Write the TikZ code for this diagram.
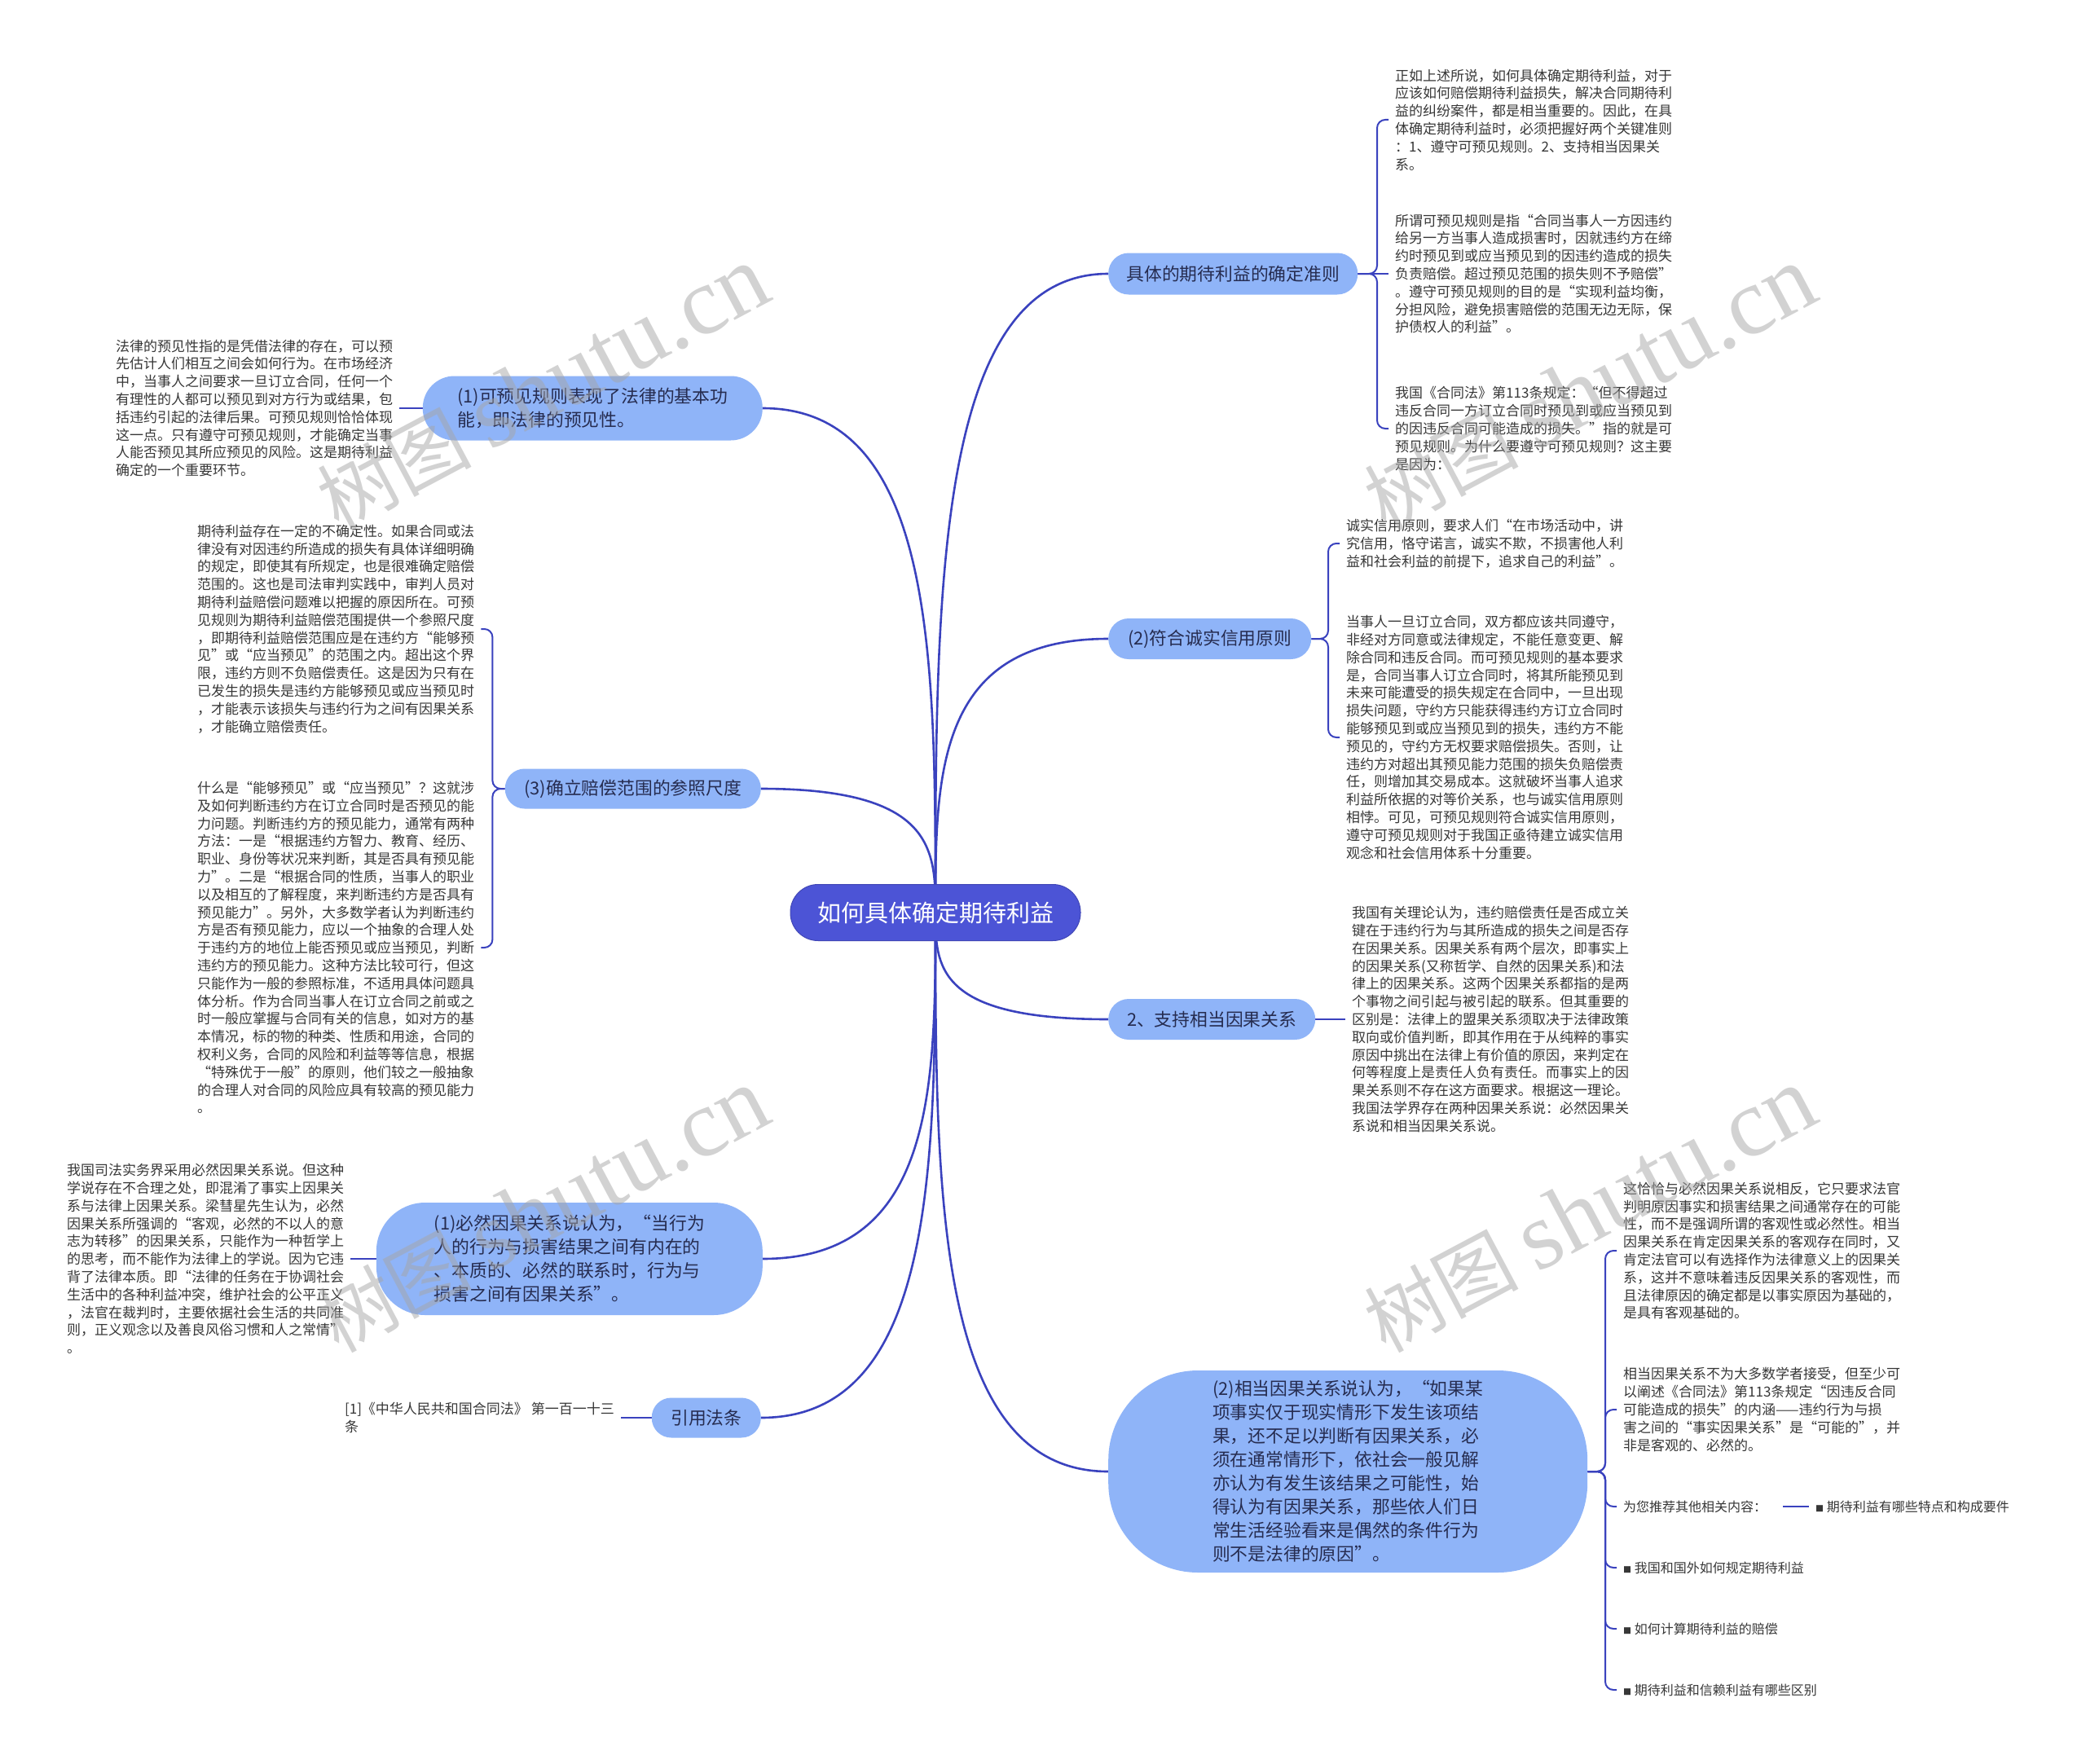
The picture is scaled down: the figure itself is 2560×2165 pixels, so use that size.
\documentclass[tikz,border=0pt]{standalone}
\usepackage{fontspec}
\setmainfont{Noto Sans CJK SC}
\newfontfamily\wmfont{Liberation Serif}
\usetikzlibrary{calc}
\definecolor{mainfill}{RGB}{76,84,214}
\definecolor{branchfill}{RGB}{143,180,248}
\definecolor{branchtext}{RGB}{38,44,80}
\definecolor{edgecol}{RGB}{58,66,190}
\definecolor{leaftext}{RGB}{55,55,55}
\pgfdeclarelayer{bg}
\pgfdeclarelayer{edges}
\pgfsetlayers{bg,edges,main}
\tikzset{
  edge/.style={draw=edgecol, line width=2.6pt},
  leafedge/.style={draw=edgecol, line width=2pt, rounded corners=10pt},
  mainbox/.style={fill=mainfill, draw=mainfill!85!black, line width=1pt, text=white, rounded corners=34pt,
    minimum width=356pt, minimum height=69pt, inner sep=0pt, font=\fontsize{29}{34}\selectfont},
  branchbox/.style={fill=branchfill, text=branchtext, inner sep=0pt, align=left,
    font=\fontsize{21.8}{29}\selectfont},
  leafR/.style={anchor=west, text=leaftext, inner xsep=8pt, inner ysep=0pt, text width=340pt,
    align=left, font=\fontsize{17}{21.8}\selectfont},
  leafL/.style={anchor=west, text=leaftext, inner xsep=8pt, inner ysep=0pt, text width=340pt,
    align=left, font=\fontsize{17}{21.8}\selectfont},
  leafS/.style={anchor=west, text=leaftext, inner xsep=8pt, inner ysep=0pt, align=left,
    font=\fontsize{16}{21}\selectfont},
  wm/.style={text=black!35, text opacity=0.5, inner sep=0pt}
}
\newcommand\sq{{\fontsize{10}{10}\selectfont ■}}
\newcommand\redge[1]{\draw[edge] let \p1=(main.center), \p2=(#1.west) in (\p1) .. controls (\x1,{0.5*\y1+0.5*\y2}) and (\x1,\y2) .. (\p2);}
\newcommand\ledge[1]{\draw[edge] let \p1=(main.center), \p2=(#1.east) in (\p1) .. controls (\x1,{0.5*\y1+0.5*\y2}) and (\x1,\y2) .. (\p2);}
\newcommand\rleaf[2]{\draw[leafedge] (#1.east) -| ([xshift=-14pt]#2.west) -- (#2.west);}
\newcommand\lleaf[2]{\draw[leafedge] (#1.west) -| ([xshift=14pt]#2.east) -- (#2.east);}
\begin{document}
\begin{tikzpicture}[x=1pt,y=-1pt]
\begin{pgfonlayer}{bg}
\fill[white] (0,0) rectangle (2560,2165);
\end{pgfonlayer}
\useasboundingbox (0,0) rectangle (2560,2165);

% central node
\node[mainbox] (main) at (1148,1120) {如何具体确定期待利益};

% branches
\node[branchbox, anchor=west, minimum width=306pt, minimum height=51pt, rounded corners=25pt] (b1) at (1360,336) {具体的期待利益的确定准则};
\node[branchbox, anchor=east, minimum width=417pt, minimum height=79pt, rounded corners=39pt] (b2) at (936,501) {(1)可预见规则表现了法律的基本功\\
能，即法律的预见性。};
\node[branchbox, anchor=west, minimum width=249pt, minimum height=50pt, rounded corners=25pt] (b3) at (1360,784) {(2)符合诚实信用原则};
\node[branchbox, anchor=east, minimum width=314pt, minimum height=49pt, rounded corners=24pt] (b4) at (934,968) {(3)确立赔偿范围的参照尺度};
\node[branchbox, anchor=west, minimum width=254pt, minimum height=50pt, rounded corners=25pt] (b5) at (1360,1251) {2、支持相当因果关系};
\node[branchbox, anchor=east, minimum width=474pt, minimum height=138pt, rounded corners=60pt] (b6) at (936,1545) {(1)必然因果关系说认为，“当行为\\
人的行为与损害结果之间有内在的\\
、本质的、必然的联系时，行为与\\
损害之间有因果关系”。};
\node[branchbox, anchor=east, minimum width=134pt, minimum height=49pt, rounded corners=24pt] (b7) at (934,1740) {引用法条};
\node[branchbox, anchor=west, minimum width=588pt, minimum height=248pt, rounded corners=110pt] (b8) at (1360,1806) {(2)相当因果关系说认为，“如果某\\
项事实仅于现实情形下发生该项结\\
果，还不足以判断有因果关系，必\\
须在通常情形下，依社会一般见解\\
亦认为有发生该结果之可能性，始\\
得认为有因果关系，那些依人们日\\
常生活经验看来是偶然的条件行为\\
则不是法律的原因”。};

% leaves of b1
\node[leafR] (a1) at (1704,147) {正如上述所说，如何具体确定期待利益，对于\\
应该如何赔偿期待利益损失，解决合同期待利\\
益的纠纷案件，都是相当重要的。因此，在具\\
体确定期待利益时，必须把握好两个关键准则\\
：1、遵守可预见规则。2、支持相当因果关\\
系。};
\node[leafR] (a2) at (1704,336) {所谓可预见规则是指“合同当事人一方因违约\\
给另一方当事人造成损害时，因就违约方在缔\\
约时预见到或应当预见到的因违约造成的损失\\
负责赔偿。超过预见范围的损失则不予赔偿”\\
。遵守可预见规则的目的是“实现利益均衡，\\
分担风险，避免损害赔偿的范围无边无际，保\\
护债权人的利益”。};
\node[leafR] (a3) at (1704,526) {我国《合同法》第113条规定：“但不得超过\\
违反合同一方订立合同时预见到或应当预见到\\
的因违反合同可能造成的损失。”指的就是可\\
预见规则。为什么要遵守可预见规则？这主要\\
是因为：};

% leaf of b2
\node[leafL] (c1) at (134,501) {法律的预见性指的是凭借法律的存在，可以预\\
先估计人们相互之间会如何行为。在市场经济\\
中，当事人之间要求一旦订立合同，任何一个\\
有理性的人都可以预见到对方行为或结果，包\\
括违约引起的法律后果。可预见规则恰恰体现\\
这一点。只有遵守可预见规则，才能确定当事\\
人能否预见其所应预见的风险。这是期待利益\\
确定的一个重要环节。};

% leaves of b3
\node[leafR] (d1) at (1644,667) {诚实信用原则，要求人们“在市场活动中，讲\\
究信用，恪守诺言，诚实不欺，不损害他人利\\
益和社会利益的前提下，追求自己的利益”。};
\node[leafR] (d2) at (1644,905) {当事人一旦订立合同，双方都应该共同遵守，\\
非经对方同意或法律规定，不能任意变更、解\\
除合同和违反合同。而可预见规则的基本要求\\
是，合同当事人订立合同时，将其所能预见到\\
未来可能遭受的损失规定在合同中，一旦出现\\
损失问题，守约方只能获得违约方订立合同时\\
能够预见到或应当预见到的损失，违约方不能\\
预见的，守约方无权要求赔偿损失。否则，让\\
违约方对超出其预见能力范围的损失负赔偿责\\
任，则增加其交易成本。这就破坏当事人追求\\
利益所依据的对等价关系，也与诚实信用原则\\
相悖。可见，可预见规则符合诚实信用原则，\\
遵守可预见规则对于我国正亟待建立诚实信用\\
观念和社会信用体系十分重要。};

% leaves of b4
\node[leafL] (e1) at (234,772) {期待利益存在一定的不确定性。如果合同或法\\
律没有对因违约所造成的损失有具体详细明确\\
的规定，即使其有所规定，也是很难确定赔偿\\
范围的。这也是司法审判实践中，审判人员对\\
期待利益赔偿问题难以把握的原因所在。可预\\
见规则为期待利益赔偿范围提供一个参照尺度\\
，即期待利益赔偿范围应是在违约方“能够预\\
见”或“应当预见”的范围之内。超出这个界\\
限，违约方则不负赔偿责任。这是因为只有在\\
已发生的损失是违约方能够预见或应当预见时\\
，才能表示该损失与违约行为之间有因果关系\\
，才能确立赔偿责任。};
\node[leafL] (e2) at (234,1163) {什么是“能够预见”或“应当预见”？这就涉\\
及如何判断违约方在订立合同时是否预见的能\\
力问题。判断违约方的预见能力，通常有两种\\
方法：一是“根据违约方智力、教育、经历、\\
职业、身份等状况来判断，其是否具有预见能\\
力”。二是“根据合同的性质，当事人的职业\\
以及相互的了解程度，来判断违约方是否具有\\
预见能力”。另外，大多数学者认为判断违约\\
方是否有预见能力，应以一个抽象的合理人处\\
于违约方的地位上能否预见或应当预见，判断\\
违约方的预见能力。这种方法比较可行，但这\\
只能作为一般的参照标准，不适用具体问题具\\
体分析。作为合同当事人在订立合同之前或之\\
时一般应掌握与合同有关的信息，如对方的基\\
本情况，标的物的种类、性质和用途，合同的\\
权利义务，合同的风险和利益等等信息，根据\\
“特殊优于一般”的原则，他们较之一般抽象\\
的合理人对合同的风险应具有较高的预见能力\\
。};

% leaf of b5
\node[leafR] (f1) at (1651,1251) {我国有关理论认为，违约赔偿责任是否成立关\\
键在于违约行为与其所造成的损失之间是否存\\
在因果关系。因果关系有两个层次，即事实上\\
的因果关系(又称哲学、自然的因果关系)和法\\
律上的因果关系。这两个因果关系都指的是两\\
个事物之间引起与被引起的联系。但其重要的\\
区别是：法律上的盟果关系须取决于法律政策\\
取向或价值判断，即其作用在于从纯粹的事实\\
原因中挑出在法律上有价值的原因，来判定在\\
何等程度上是责任人负有责任。而事实上的因\\
果关系则不存在这方面要求。根据这一理论。\\
我国法学界存在两种因果关系说：必然因果关\\
系说和相当因果关系说。};

% leaf of b6
\node[leafL] (g1) at (74,1545) {我国司法实务界采用必然因果关系说。但这种\\
学说存在不合理之处，即混淆了事实上因果关\\
系与法律上因果关系。梁彗星先生认为，必然\\
因果关系所强调的“客观，必然的不以人的意\\
志为转移”的因果关系，只能作为一种哲学上\\
的思考，而不能作为法律上的学说。因为它违\\
背了法律本质。即“法律的任务在于协调社会\\
生活中的各种利益冲突，维护社会的公平正义\\
，法官在裁判时，主要依据社会生活的共同准\\
则，正义观念以及善良风俗习惯和人之常情”\\
。};

% leaf of b7
\node[leafS, anchor=east, font=\fontsize{17}{21.8}\selectfont] (h1) at (762,1740) {[1]《中华人民共和国合同法》 第一百一十三\\
条};

% leaves of b8
\node[leafR] (k1) at (1984,1535) {这恰恰与必然因果关系说相反，它只要求法官\\
判明原因事实和损害结果之间通常存在的可能\\
性，而不是强调所谓的客观性或必然性。相当\\
因果关系在肯定因果关系的客观存在同时，又\\
肯定法官可以有选择作为法律意义上的因果关\\
系，这并不意味着违反因果关系的客观性，而\\
且法律原因的确定都是以事实原因为基础的，\\
是具有客观基础的。};
\node[leafR] (k2) at (1984,1730) {相当因果关系不为大多数学者接受，但至少可\\
以阐述《合同法》第113条规定“因违反合同\\
可能造成的损失”的内涵——违约行为与损\\
害之间的“事实因果关系”是“可能的”，并\\
非是客观的、必然的。};
\node[leafS] (k3) at (1984,1849) {为您推荐其他相关内容：};
\node[leafS] (k3c) at (2220,1849) {\sq\ 期待利益有哪些特点和构成要件};
\node[leafS] (k4) at (1984,1924) {\sq\ 我国和国外如何规定期待利益};
\node[leafS] (k5) at (1984,1999) {\sq\ 如何计算期待利益的赔偿};
\node[leafS] (k6) at (1984,2074) {\sq\ 期待利益和信赖利益有哪些区别};

% connectors
\begin{pgfonlayer}{edges}
\redge{b1}
\redge{b3}
\redge{b5}
\redge{b8}
\ledge{b2}
\ledge{b4}
\ledge{b6}
\ledge{b7}
\rleaf{b1}{a1}
\draw[leafedge] (b1.east) -- (a2.west);
\rleaf{b1}{a3}
\draw[leafedge] (b2.west) -- (c1.east);
\rleaf{b3}{d1}
\rleaf{b3}{d2}
\lleaf{b4}{e1}
\lleaf{b4}{e2}
\draw[leafedge] (b5.east) -- (f1.west);
\draw[leafedge] (b6.west) -- (g1.east);
\draw[leafedge] (b7.west) -- (h1.east);
\rleaf{b8}{k1}
\rleaf{b8}{k2}
\rleaf{b8}{k3}
\rleaf{b8}{k4}
\rleaf{b8}{k5}
\rleaf{b8}{k6}
\draw[leafedge, shorten <=12pt] (k3.east) -- (k3c.west);
\end{pgfonlayer}

% watermarks
\foreach \wx/\wy [count=\wi] in {666/477, 1951/477, 666/1486, 1951/1486} {
  \node[wm, rotate=28] (wm\wi) at (\wx,\wy) {\fontsize{95}{100}\selectfont 树图 {\wmfont\fontsize{118}{118}\selectfont shutu.cn}};
}
\end{tikzpicture}
\end{document}
